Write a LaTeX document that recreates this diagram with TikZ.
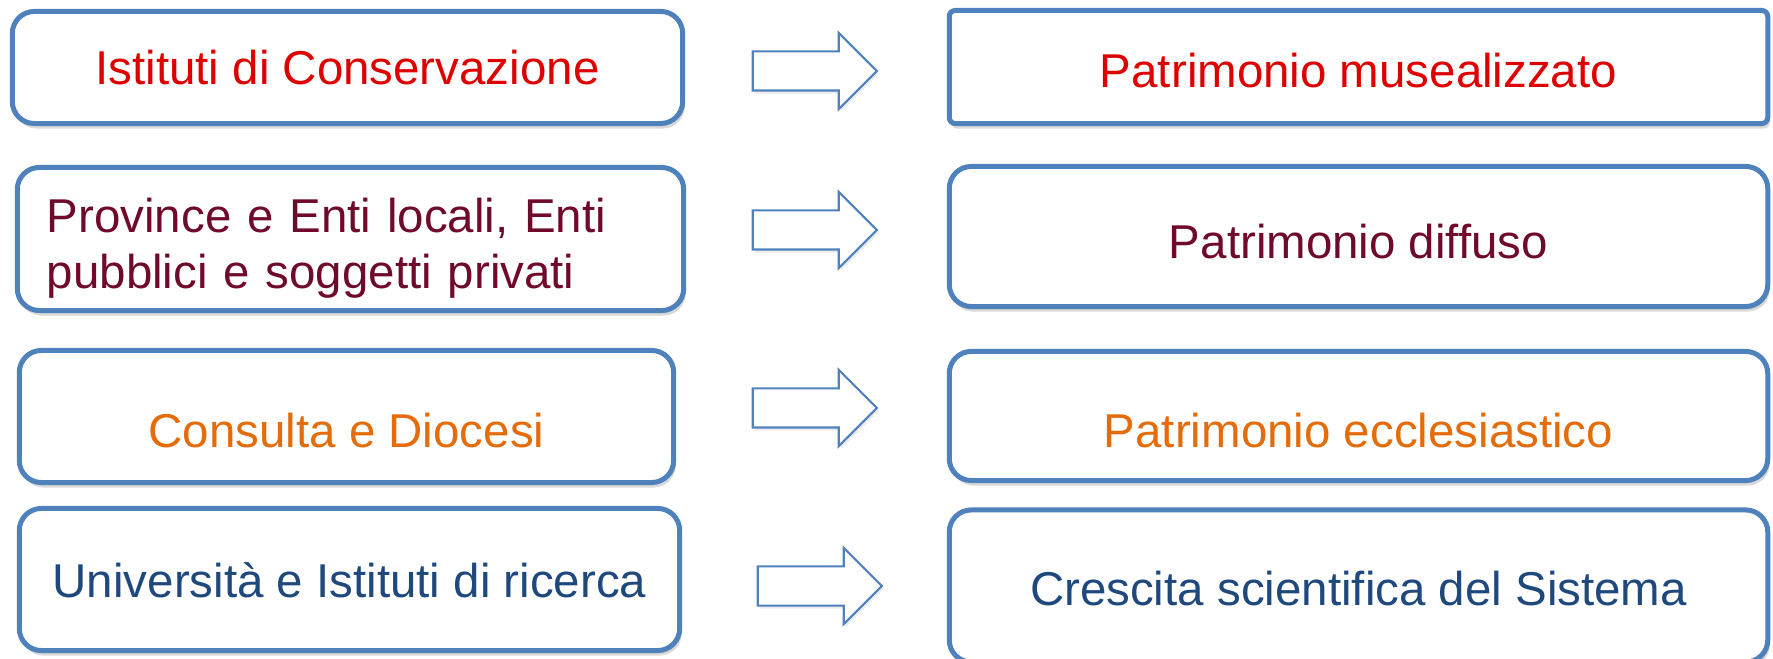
\documentclass[tikz,border=0pt]{standalone}
\usepackage{fontspec}
\setmainfont{Liberation Sans}
\usetikzlibrary{shapes.arrows,shadows}
\definecolor{boxblue}{RGB}{79,129,189}
\definecolor{txtred}{RGB}{222,0,0}
\definecolor{txtwine}{RGB}{112,10,42}
\definecolor{txtorange}{RGB}{228,108,10}
\definecolor{txtblue}{RGB}{31,73,125}
\tikzset{txh/.style={text height=#1, text depth=0pt}}

\begin{document}
\begin{tikzpicture}[x=0.01cm, y=-0.01cm]
      \tikzstyle{bnode} = [draw=boxblue, line width=0.05cm, rounded corners=0.22cm, fill=white, inner sep=0pt,
        font=\fontsize{13.5pt}{16pt}\selectfont, drop shadow={shadow xshift=0.02cm, shadow yshift=-0.05cm, opacity=0.3}]
      \tikzstyle{anode} = [single arrow, draw=boxblue, line width=0.6pt, fill=white, inner sep=0pt,
        text height=0.37cm, text depth=0pt, minimum height=1.24cm, minimum width=0.74cm, single arrow head extend=0.185cm,
        drop shadow={shadow xshift=0.02cm, shadow yshift=-0.03cm, opacity=0.15}]

      \useasboundingbox (0,0) rectangle (1773,659);

      % soggetti
      \node[bnode, txh=0.34cm, minimum width=6.70cm, minimum height=1.12cm, text=txtred] (ist) at (347.5,67.5) {Istituti di Conservazione};
      \node[bnode, minimum width=6.66cm, minimum height=1.43cm, text width=6.07cm, align=left, text=txtwine] (prov) at (350.5,239) {\rule{0pt}{0.53cm}Province e Enti locali, Enti\\pubblici e soggetti privati};
      \node[bnode, txh=0.62cm, minimum width=6.54cm, minimum height=1.32cm, text=txtorange] (cons) at (346.5,416.5) {Consulta e Diocesi};
      \node[bnode, txh=0.36cm, minimum width=6.60cm, minimum height=1.42cm, text=txtblue] (univ) at (349.5,579.5) {Università e Istituti di ricerca};

      % patrimonio
      \node[bnode, txh=0.42cm, rounded corners=0.06cm, minimum width=8.18cm, minimum height=1.13cm, text=txtred] (muse) at (1358.5,67) {Patrimonio musealizzato};
      \node[bnode, txh=0.44cm, minimum width=8.18cm, minimum height=1.40cm, text=txtwine] (diff) at (1358.5,236.5) {Patrimonio diffuso};
      \node[bnode, txh=0.62cm, minimum width=8.18cm, minimum height=1.29cm, text=txtorange] (eccl) at (1358.5,416) {Patrimonio ecclesiastico};
      \node[bnode, txh=0.38cm, minimum width=8.18cm, minimum height=1.52cm, text=txtblue] (cresc) at (1358.5,586) {Crescita scientifica del Sistema};

      \node[anode] (a1) at (805,71) {};
      \node[anode] (a2) at (805,230) {};
      \node[anode] (a3) at (805,408) {};
      \node[anode] (a4) at (810,586) {};
\end{tikzpicture}
\end{document}
